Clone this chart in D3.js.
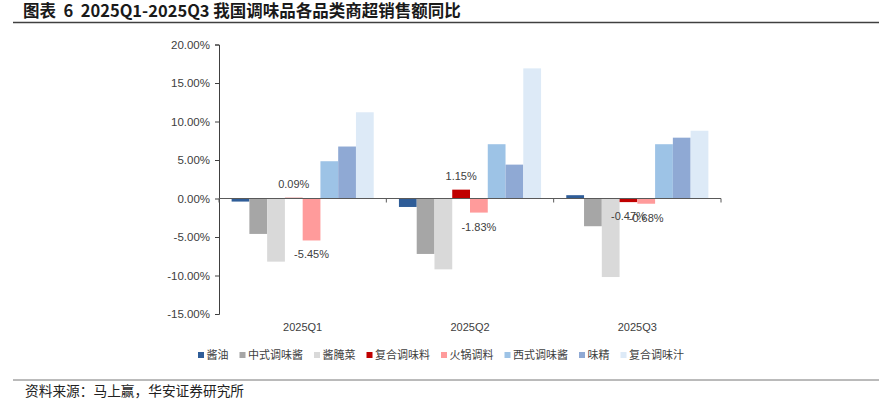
<!DOCTYPE html>
<html>
<head>
<meta charset="utf-8">
<script src="https://cdn.jsdelivr.net/npm/d3@7"></script>
<style>
  body { margin: 0; background: #fff; }
  text { font-family: "Liberation Sans", Arial, sans-serif; }
  .cjk { font-family: "Noto Sans CJK SC", sans-serif; }
</style>
</head>
<body>
<div id="chart"></div>
<script>
// data (percent)
var quarters = ['2025Q1', '2025Q2', '2025Q3'];
var seriesNames = ['酱油', '中式调味酱', '酱腌菜', '复合调味料', '火锅调料', '西式调味酱', '味精', '复合调味汁'];
var seriesColors = ['#2F5D98', '#A6A6A6', '#D9D9D9', '#C00000', '#FF9B9B', '#9DC3E6', '#8FA9D4', '#DDEAF7'];
var soySauce   = [-0.40, -1.10,  0.43];
var chineseSauce = [-4.60, -7.20, -3.60];
var pickles    = [-8.20, -9.20, -10.20];
var compoundSeasoning = [0.09, 1.15, -0.47];
var hotpot     = [-5.45, -1.83, -0.68];
var westernSauce = [4.84, 7.05, 7.05];
var msg        = [6.75, 4.40, 7.90];
var compoundJuice = [11.20, 16.90, 8.80];
var yTicks = [-15, -10, -5, 0, 5, 10, 15, 20];
var labelledSeries = ['复合调味料', '火锅调料'];

var values = [soySauce, chineseSauce, pickles, compoundSeasoning, hotpot, westernSauce, msg, compoundJuice];

var size = { width: 879, height: 402 };

// plain hyphen for negatives, like the source chart
var pct = function(d){ return d3.format('.2f')(d).replace('\u2212', '-') + '%'; };

var svg = d3.select('#chart').append('svg')
  .attr('width', size.width)
  .attr('height', size.height);

// title + rules
svg.append('text').attr('class', 'cjk')
  .attr('x', 23).attr('y', 17)
  .style('white-space', 'pre')
  .attr('font-size', '16.5px').attr('font-weight', 'bold').attr('fill', '#1a1a1a')
  .text('图表  6  2025Q1-2025Q3 我国调味品各品类商超销售额同比');
svg.append('line').attr('x1', 13).attr('x2', 879).attr('y1', 22.5).attr('y2', 22.5)
  .attr('stroke', '#404040').attr('stroke-width', 1.5);
svg.append('line').attr('x1', 13).attr('x2', 879).attr('y1', 380).attr('y2', 380)
  .attr('stroke', '#777').attr('stroke-width', 1);
svg.append('text').attr('class', 'cjk')
  .attr('x', 25).attr('y', 396)
  .attr('font-size', '13.7px').attr('fill', '#222')
  .text('资料来源：马上赢，华安证券研究所');

var y = d3.scaleLinear().domain([-15, 20]).range([314, 44.5]);
var x0 = d3.scaleBand().domain(quarters).range([219, 721]);
var x1 = d3.scaleBand().domain(seriesNames).range([0, x0.bandwidth()]).paddingOuter(0.71);

var rows = [];
quarters.forEach(function(q, qi){
  seriesNames.forEach(function(s, si){
    rows.push({ q: q, s: s, i: si, v: values[si][qi] });
  });
});

svg.selectAll('rect.bar')
  .data(rows)
  .enter()
  .append('rect')
  .attr('class', 'bar')
  .attr('x', function(d){ return x0(d.q) + x1(d.s); })
  .attr('width', x1.bandwidth())
  .attr('y', function(d){ return y(Math.max(0, d.v)); })
  .attr('height', function(d){ return Math.abs(y(d.v) - y(0)); })
  .attr('fill', function(d){ return seriesColors[d.i]; });

// y axis
var yAxis = svg.append('g').attr('transform', 'translate(219,0)')
  .call(d3.axisLeft(y).tickValues(yTicks).tickSize(4).tickPadding(5).tickFormat(pct));
yAxis.selectAll('path, line').attr('stroke', '#404040');
yAxis.selectAll('text').attr('font-size', '11.5px').attr('fill', '#404040')
  .style('font-family', '"Liberation Sans", Arial, sans-serif');

// zero line with category boundary ticks
svg.append('line').attr('x1', 219).attr('x2', 721).attr('y1', y(0)).attr('y2', y(0))
  .attr('stroke', '#595959').attr('stroke-width', 1);
svg.selectAll('line.ctick')
  .data(quarters.map(function(q){ return x0(q); }).concat([721]))
  .enter().append('line').attr('class', 'ctick')
  .attr('x1', function(d){ return d; }).attr('x2', function(d){ return d; })
  .attr('y1', y(0)).attr('y2', y(0) + 4)
  .attr('stroke', '#595959');

// category labels
svg.selectAll('text.cat')
  .data(quarters)
  .enter().append('text').attr('class', 'cat')
  .attr('x', function(d){ return x0(d) + x0.bandwidth() / 2; })
  .attr('y', 330.5)
  .attr('text-anchor', 'middle')
  .attr('font-size', '11px').attr('fill', '#404040')
  .text(function(d){ return d; });

// data labels
svg.selectAll('text.lbl')
  .data(rows.filter(function(d){ return labelledSeries.indexOf(d.s) >= 0; }))
  .enter().append('text').attr('class', 'lbl')
  .attr('x', function(d){ return x0(d.q) + x1(d.s) + x1.bandwidth() / 2; })
  .attr('y', function(d){ return d.v >= 0 ? y(d.v) - 10 : y(d.v) + 18; })
  .attr('text-anchor', 'middle')
  .attr('font-size', '11px').attr('fill', '#404040')
  .text(function(d){ return pct(d.v); });

// legend
var lx = 198;
seriesNames.forEach(function(s, i){
  svg.append('rect').attr('x', lx).attr('y', 352).attr('width', 6).attr('height', 6)
    .attr('fill', seriesColors[i]);
  var t = svg.append('text').attr('class', 'cjk')
    .attr('x', lx + 8.5).attr('y', 359)
    .attr('font-size', '11px').attr('fill', '#404040')
    .text(s);
  lx += 8.5 + t.node().getComputedTextLength() + 11;
});
</script>
</body>
</html>
